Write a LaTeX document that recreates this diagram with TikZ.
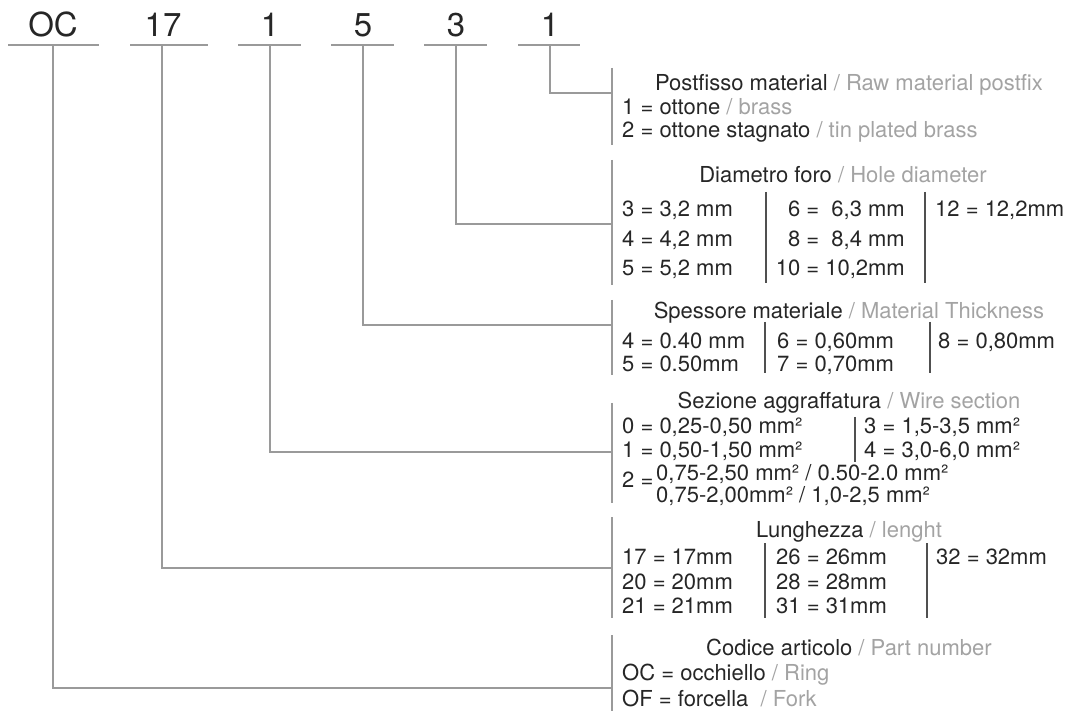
\documentclass[tikz,border=0pt]{standalone}
\usepackage{fontspec}
\setmainfont{TeX Gyre Heros}
\definecolor{txt}{HTML}{262626}
\definecolor{eng}{HTML}{A3A3A3}
\definecolor{ln}{HTML}{9A9A9A}
\definecolor{sepc}{HTML}{505050}
\newcommand\en[1]{\textcolor{eng}{#1}}
\begin{document}
\begin{tikzpicture}[x=1pt,y=-1pt,
  lbl/.style={font=\fontsize{22}{24}\selectfont, text=txt, inner sep=0pt, anchor=base west},
  ttl/.style={lbl, anchor=base},
  rgt/.style={lbl, anchor=base east},
  code/.style={font=\fontsize{33}{36}\selectfont, text=txt, inner sep=0pt, anchor=base},
  uline/.style={draw=ln, line width=1.6pt},
  conn/.style={draw=ln, line width=1.6pt},
  brk/.style={draw=ln, line width=2pt},
  sepl/.style={draw=sepc, line width=2pt}]
\useasboundingbox (0,0) rectangle (1072,711);

% ---- code letters ----
\node[code] (cOC) at (53,37) {OC};
\node[code] (c17) at (163,37) {17};
\node[code] (c1a) at (270,37) {1};
\node[code] (c5)  at (363,37) {5};
\node[code] (c3)  at (456,37) {3};
\node[code] (c1b) at (550,37) {1};
\draw[uline] (8,45) -- (99,45);
\draw[uline] (130,45) -- (208,45);
\draw[uline] (238,45) -- (301,45);
\draw[uline] (331,45) -- (394,45);
\draw[uline] (424,45) -- (487,45);
\draw[uline] (518,45) -- (580,45);
\coordinate (uOC) at (53,45);
\coordinate (u17) at (162,45);
\coordinate (u1a) at (270,45);
\coordinate (u5)  at (363,45);
\coordinate (u3)  at (456,45);
\coordinate (u1b) at (550,45);

% ---- brackets ----
\draw[brk] (612,68) -- (612,145);
\draw[brk] (612,160) -- (612,285);
\draw[brk] (612,300) -- (612,375);
\draw[brk] (612,403) -- (612,503);
\draw[brk] (612,517) -- (612,618);
\draw[brk] (612,635) -- (612,711);
\coordinate (j1b) at (612,93);
\coordinate (j3)  at (612,224);
\coordinate (j5)  at (612,325);
\coordinate (j1a) at (612,452);
\coordinate (j17) at (612,568);
\coordinate (jOC) at (612,688);

% ---- connectors ----
\draw[conn] (u1b) |- (j1b);
\draw[conn] (u3)  |- (j3);
\draw[conn] (u5)  |- (j5);
\draw[conn] (u1a) |- (j1a);
\draw[conn] (u17) |- (j17);
\draw[conn] (uOC) |- (jOC);

% ---- group 1 ----
\node[ttl] (t1) at (849,91) {Postfisso material \en{/ Raw material postfix}};
\node[lbl] (g1a) at (622,115) {1 = ottone \en{/ brass}};
\node[lbl] (g1b) at (622,138) {2 = ottone stagnato \en{/ tin plated brass}};

% ---- group 2 ----
\node[ttl] (t2) at (843,183) {Diametro foro \en{/ Hole diameter}};
\node[lbl] (g2a) at (622,217) {3 = 3,2 mm};
\node[lbl] (g2b) at (622,247) {4 = 4,2 mm};
\node[lbl] (g2c) at (622,276) {5 = 5,2 mm};
\node[rgt] (g2d) at (905,217) {6 =\ \ 6,3 mm};
\node[rgt] (g2e) at (905,247) {8 =\ \ 8,4 mm};
\node[rgt] (g2f) at (905,276) {10 = 10,2mm};
\node[lbl] (g2g) at (935,217) {12 = 12,2mm};
\draw[sepl] (766,192) -- (766,283);
\draw[sepl] (925,192) -- (925,283);

% ---- group 3 ----
\node[ttl] (t3) at (849,319) {Spessore materiale \en{/ Material Thickness}};
\node[lbl] (g3a) at (622,349) {4 = 0.40 mm};
\node[lbl] (g3b) at (622,372) {5 = 0.50mm};
\node[lbl] (g3c) at (777,349) {6 = 0,60mm};
\node[lbl] (g3d) at (777,372) {7 = 0,70mm};
\node[lbl] (g3e) at (938,349) {8 = 0,80mm};
\draw[sepl] (765,322) -- (765,373);
\draw[sepl] (930,322) -- (930,373);

% ---- group 4 ----
\node[ttl] (t4) at (849,409) {Sezione aggraffatura \en{/ Wire section}};
\node[lbl] (g4a) at (622,434) {0 = 0,25-0,50 mm²};
\node[lbl] (g4b) at (622,458) {1 = 0,50-1,50 mm²};
\node[lbl] (g4c) at (864,434) {3 = 1,5-3,5 mm²};
\node[lbl] (g4d) at (864,458) {4 = 3,0-6,0 mm²};
\node[lbl] (g4e) at (622,488) {2 =};
\node[lbl] (g4f) at (656,480) {0,75-2,50 mm² / 0.50-2.0 mm²};
\node[lbl] (g4g) at (656,502) {0,75-2,00mm² / 1,0-2,5 mm²};
\draw[sepl] (855,417) -- (855,462);

% ---- group 5 ----
\node[ttl] (t5) at (849,537) {Lunghezza \en{/ lenght}};
\node[lbl] (g5a) at (622,564) {17 = 17mm};
\node[lbl] (g5b) at (622,589) {20 = 20mm};
\node[lbl] (g5c) at (622,613) {21 = 21mm};
\node[lbl] (g5d) at (776,564) {26 = 26mm};
\node[lbl] (g5e) at (776,589) {28 = 28mm};
\node[lbl] (g5f) at (776,613) {31 = 31mm};
\node[lbl] (g5g) at (936,564) {32 = 32mm};
\draw[sepl] (765,543) -- (765,618);
\draw[sepl] (927,543) -- (927,618);

% ---- group 6 ----
\node[ttl] (t6) at (849,655) {Codice articolo \en{/ Part number}};
\node[lbl] (g6a) at (622,680) {OC = occhiello \en{/ Ring}};
\node[lbl] (g6b) at (622,706) {OF = forcella \ \en{/ Fork}};
\end{tikzpicture}
\end{document}
